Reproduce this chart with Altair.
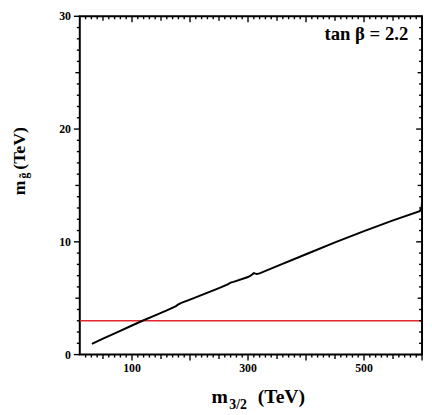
import altair as alt
import pandas as pd

# ---- data ----
m32 = [31, 50, 75, 100, 118, 140, 160, 175, 180, 185, 200, 225, 250, 265, 270,
       275, 300, 305, 310, 315, 320, 350, 400, 450, 500, 550, 596, 599, 600]
mg = [0.95, 1.42, 2.0, 2.58, 3.0, 3.48, 3.92, 4.28, 4.45, 4.58, 4.88, 5.38, 5.9,
      6.22, 6.38, 6.45, 6.88, 7.02, 7.22, 7.14, 7.2, 7.85, 8.9, 9.95, 10.95,
      11.9, 12.72, 12.95, 13.5]
limit_x = [10, 600]
limit_y = [3, 3]
x_labels = ["100", "300", "500"]
y_labels = ["0", "10", "20", "30"]
x_major = [100, 200, 300, 400, 500, 600]
x_mid = [50, 150, 250, 350, 450, 550]
x_minor = [v for v in range(20, 600, 10) if v % 50 != 0]
y_major = [0, 10, 20, 30]
y_mid = [5, 15, 25]
y_minor = [v for v in range(1, 30) if v % 5 != 0]

FONT = "Liberation Serif"
W, H = 348, 344

x_scale = alt.Scale(domain=[10, 600], nice=False, zero=False)
y_scale = alt.Scale(domain=[0, 30], nice=False, zero=False)


def X(field):
    return alt.X(field, scale=x_scale, axis=None)


def Y(field):
    return alt.Y(field, scale=y_scale, axis=None)


limit = alt.Chart(pd.DataFrame({"lx": limit_x, "ly": limit_y})).mark_line(
    color="#e3262b", strokeWidth=1.5).encode(x=X("lx:Q"), y=Y("ly:Q"))

curve = alt.Chart(pd.DataFrame({"m32": m32, "mg": mg})).mark_line(
    color="black", strokeWidth=2).encode(x=X("m32:Q"), y=Y("mg:Q"), order="m32:Q")

# tick labels, placed through the scales
lab = dict(font=FONT, fontWeight="bold", fontSize=12, color="black")
x_lab = alt.Chart(pd.DataFrame({"lab": x_labels})).transform_calculate(
    pos="toNumber(datum.lab)").mark_text(
    align="center", baseline="top", **lab).encode(
    x=X("pos:Q"), y=alt.value(H + 9), text="lab:N")
y_lab = alt.Chart(pd.DataFrame({"lab": y_labels})).transform_calculate(
    pos="toNumber(datum.lab)").mark_text(
    align="right", baseline="middle", **lab).encode(
    y=Y("pos:Q"), x=alt.value(-9), text="lab:N")

one = pd.DataFrame({"k": [0]})


def txt(text, x, y, size, angle=0, align="left"):
    kw = dict(text=text, font=FONT, fontWeight="bold", fontSize=size,
              align=align, baseline="alphabetic", color="black")
    if angle:
        kw["angle"] = angle
    return alt.Chart(one).mark_text(**kw).encode(x=alt.value(x), y=alt.value(y))


texts = [
    txt("m", 134, 393, 20),
    txt("3/2", 152, 399, 14),
    txt("(TeV)", 181, 393, 20),
    txt("m", -56, 182, 18, angle=270),
    txt("g\u0303", -53, 165, 12, angle=270),
    txt("(TeV)", -56, 156, 18, angle=270),
    txt("tan \u03b2 = 2.2", 334, 24, 19, align="right"),
]

# tick marks on all four sides (outward at bottom/left, inward at top/right),
# drawn as tick marks placed through the scales
tick_layers = []
for xv, yv, size in [(x_minor, y_minor, 3), (x_mid, y_mid, 4.5), (x_major, y_major, 6)]:
    xd = alt.Chart(pd.DataFrame({"xt": xv}))
    yd = alt.Chart(pd.DataFrame({"yt": yv}))
    tk = dict(color="black", thickness=1.4, opacity=1)
    tick_layers += [
        xd.mark_tick(orient="vertical", **tk).encode(
            x=X("xt:Q"), y=alt.value(H + size / 2), size=alt.value(size)),
        xd.mark_tick(orient="vertical", **tk).encode(
            x=X("xt:Q"), y=alt.value(size / 2), size=alt.value(size)),
        yd.mark_tick(orient="horizontal", **tk).encode(
            y=Y("yt:Q"), x=alt.value(-size / 2), size=alt.value(size)),
        yd.mark_tick(orient="horizontal", **tk).encode(
            y=Y("yt:Q"), x=alt.value(W - size / 2), size=alt.value(size)),
    ]

chart = alt.layer(limit, curve, x_lab, y_lab, *texts, *tick_layers).properties(
    width=W, height=H,
    autosize=alt.AutoSizeParams(type="none"),
    padding={"left": 73, "top": 5, "right": 2, "bottom": 58},
).configure_view(stroke="black", strokeWidth=2)

chart.save("out.html", embed_options={"renderer": "svg", "actions": False})
